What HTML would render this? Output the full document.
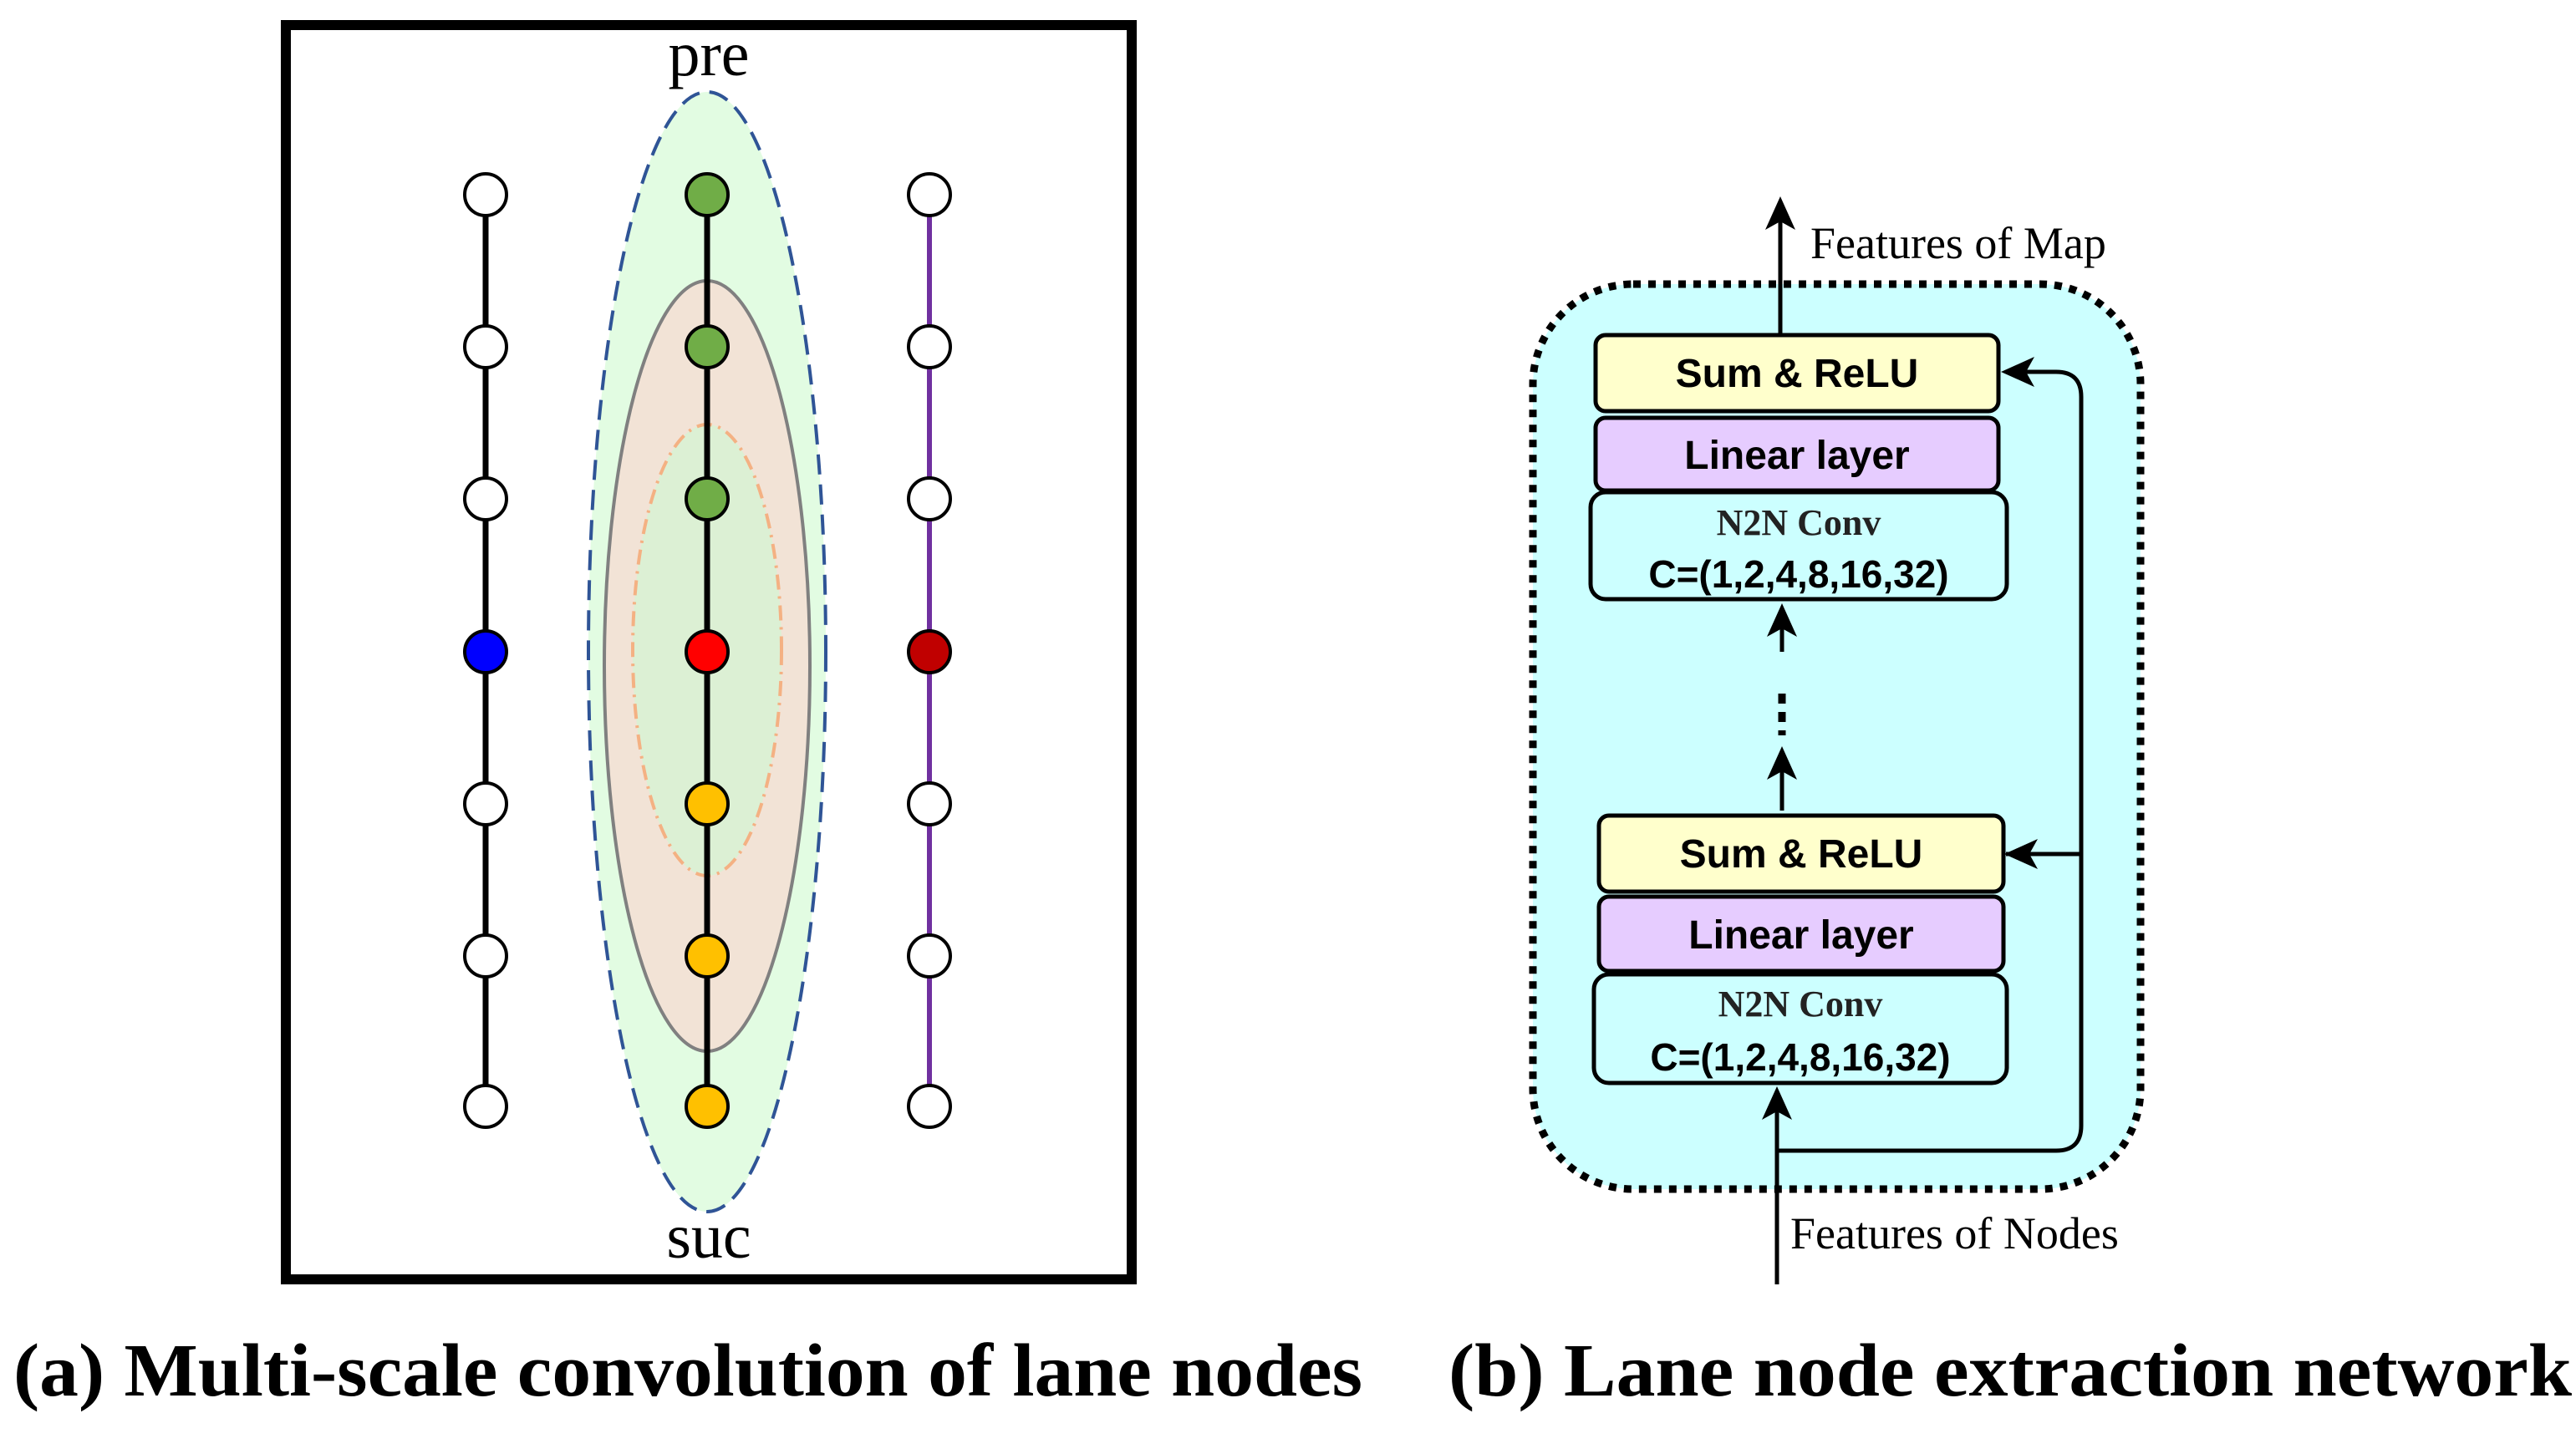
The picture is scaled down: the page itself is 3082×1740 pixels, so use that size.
<!DOCTYPE html>
<html><head><meta charset="utf-8"><style>html,body{margin:0;padding:0;background:#fff}svg{display:block}</style></head>
<body>
<svg width="3082" height="1740" viewBox="0 0 3082 1740" xmlns="http://www.w3.org/2000/svg">
<defs>
<marker id="ah" markerWidth="10" markerHeight="10" refX="9" refY="5" orient="auto" markerUnits="userSpaceOnUse" viewBox="0 0 10 10">
</marker>
</defs>
<!-- Panel a -->
<rect x="342" y="30" width="1012" height="1501" fill="#fff" stroke="#000" stroke-width="12"/>
<ellipse cx="846" cy="780" rx="142" ry="670" fill="#e2fce2" stroke="#2f5496" stroke-width="4" stroke-dasharray="24,12"/>
<ellipse cx="846" cy="797" rx="123" ry="461" fill="#f2e3d6" stroke="#808080" stroke-width="4"/>
<ellipse cx="846" cy="778" rx="89" ry="270" fill="#dcf0d4" stroke="#f4b183" stroke-width="4" stroke-dasharray="18,8,3,8"/>
<line x1="581" y1="233" x2="581" y2="1324" stroke="#000" stroke-width="7"/>
<line x1="846" y1="233" x2="846" y2="1324" stroke="#000" stroke-width="7"/>
<line x1="1112" y1="233" x2="1112" y2="1324" stroke="#7030a0" stroke-width="6"/>
<g stroke="#000" stroke-width="4">
<circle cx="581" cy="233" r="25" fill="#fff"/><circle cx="581" cy="415" r="25" fill="#fff"/><circle cx="581" cy="597" r="25" fill="#fff"/><circle cx="581" cy="780" r="25" fill="#0000ff"/><circle cx="581" cy="962" r="25" fill="#fff"/><circle cx="581" cy="1144" r="25" fill="#fff"/><circle cx="581" cy="1324" r="25" fill="#fff"/>
<circle cx="846" cy="233" r="25" fill="#70ad47"/><circle cx="846" cy="415" r="25" fill="#70ad47"/><circle cx="846" cy="597" r="25" fill="#70ad47"/><circle cx="846" cy="780" r="25" fill="#ff0000"/><circle cx="846" cy="962" r="25" fill="#ffc000"/><circle cx="846" cy="1144" r="25" fill="#ffc000"/><circle cx="846" cy="1324" r="25" fill="#ffc000"/>
<circle cx="1112" cy="233" r="25" fill="#fff"/><circle cx="1112" cy="415" r="25" fill="#fff"/><circle cx="1112" cy="597" r="25" fill="#fff"/><circle cx="1112" cy="780" r="25" fill="#c00000"/><circle cx="1112" cy="962" r="25" fill="#fff"/><circle cx="1112" cy="1144" r="25" fill="#fff"/><circle cx="1112" cy="1324" r="25" fill="#fff"/>
</g>
<text x="848" y="90" font-family="Liberation Serif, serif" font-size="76" text-anchor="middle">pre</text>
<text x="848" y="1505" font-family="Liberation Serif, serif" font-size="76" text-anchor="middle">suc</text>
<!-- Panel b -->
<rect x="1834" y="340" width="727" height="1083" rx="120" fill="#ccffff" stroke="#000" stroke-width="9" stroke-dasharray="9,9"/>
<g stroke="#000" stroke-width="5">
<rect x="1909" y="401" width="482" height="91" rx="12" fill="#ffffcc"/>
<rect x="1909" y="500" width="482" height="87" rx="12" fill="#e6ccff"/>
<rect x="1903" y="589" width="498" height="128" rx="18" fill="#ccffff"/>
<rect x="1913" y="976" width="484" height="91" rx="12" fill="#ffffcc"/>
<rect x="1913" y="1073" width="484" height="89" rx="12" fill="#e6ccff"/>
<rect x="1907" y="1166" width="494" height="130" rx="18" fill="#ccffff"/>
</g>
<g font-family="Liberation Sans, sans-serif" font-weight="bold" font-size="48" text-anchor="middle">
<text x="2150" y="463">Sum &amp; ReLU</text>
<text x="2150" y="561">Linear layer</text>
<text x="2152" y="703" font-size="46">C=(1,2,4,8,16,32)</text>
<text x="2155" y="1038">Sum &amp; ReLU</text>
<text x="2155" y="1135">Linear layer</text>
<text x="2154" y="1281" font-size="46">C=(1,2,4,8,16,32)</text>
</g>
<g font-family="Liberation Serif, serif" font-weight="bold" font-size="44" text-anchor="middle" fill="#222">
<text x="2152" y="640">N2N Conv</text>
<text x="2154" y="1216">N2N Conv</text>
</g>
<g stroke="#000" stroke-width="5" fill="none">
<line x1="2130" y1="401" x2="2130" y2="250"/>
<line x1="2126" y1="1537" x2="2126" y2="1310"/>
<path d="M2126 1377 H2460 Q2490 1377 2490 1347 V475 Q2490 445 2460 445 H2400"/>
<line x1="2490" y1="1022" x2="2400" y2="1022"/>
<line x1="2132" y1="970" x2="2132" y2="910"/>
<line x1="2132" y1="830" x2="2132" y2="880" stroke-width="9" stroke-dasharray="12,10"/>
<line x1="2132" y1="780" x2="2132" y2="735"/>
</g>
<g fill="#000">
<path d="M2130 235 L2112 275 L2130 265 L2148 275 Z"/>
<path d="M2126 1300 L2108 1340 L2126 1330 L2144 1340 Z"/>
<path d="M2394 445 L2434 427 L2424 445 L2434 463 Z"/>
<path d="M2398 1022 L2438 1004 L2428 1022 L2438 1040 Z"/>
<path d="M2132 893 L2114 933 L2132 923 L2150 933 Z"/>
<path d="M2132 722 L2114 762 L2132 752 L2150 762 Z"/>
</g>
<text x="2166" y="309" font-family="Liberation Serif, serif" font-size="54">Features of Map</text>
<text x="2142" y="1494" font-family="Liberation Serif, serif" font-size="54">Features of Nodes</text>
<!-- captions -->
<text x="16" y="1670" font-family="Liberation Serif, serif" font-weight="bold" font-size="90" textLength="1614" lengthAdjust="spacingAndGlyphs">(a) Multi-scale convolution of lane nodes</text>
<text x="1733" y="1670" font-family="Liberation Serif, serif" font-weight="bold" font-size="90" textLength="1344" lengthAdjust="spacingAndGlyphs">(b) Lane node extraction network</text>
</svg>
</body></html>
